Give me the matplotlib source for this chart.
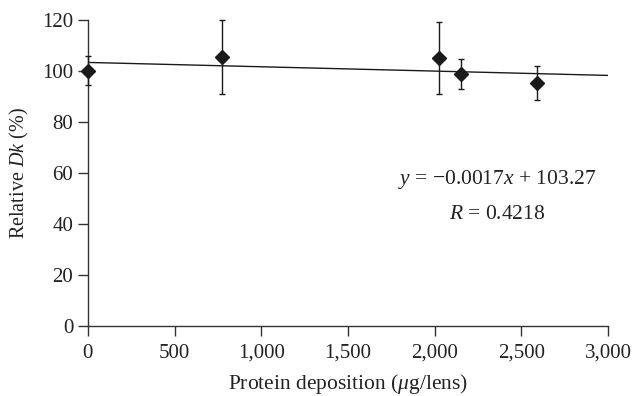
import numpy as np
import matplotlib.pyplot as plt

plt.rcParams["font.family"] = "Liberation Serif"
plt.rcParams["mathtext.fontset"] = "custom"
plt.rcParams["mathtext.rm"] = "Liberation Serif"
plt.rcParams["mathtext.it"] = "Liberation Serif:italic"

# data
protein = [0, 771, 2027, 2152, 2591]
dk = [100.0, 105.4, 105.0, 98.8, 95.2]
dk_err = [5.7, 14.5, 14.3, 5.8, 6.5]

slope = -0.0017
intercept = 103.27
fit_x = [0, 3000]

xticks = [0, 500, 1000, 1500, 2000, 2500, 3000]
yticks = [0, 20, 40, 60, 80, 100, 120]

fig = plt.figure(figsize=(6.32, 3.96), dpi=100)
ax = fig.add_axes([0.139, 0.178, 0.823, 0.772])

fx = np.array(fit_x)
ax.plot(fx, slope * fx + intercept, color="#1a1a1a", lw=1.0, zorder=2)
ax.errorbar(protein, dk, yerr=dk_err, fmt="D", color="#1a1a1a", ms=7.5,
            ecolor="#1a1a1a", elinewidth=1.0, capsize=2.3, capthick=1.0,
            zorder=3, clip_on=False)

ax.set_xlim(0, 3000)
ax.set_ylim(0, 120)
ax.set_xticks(xticks)
ax.set_xticklabels([f"{t:,}" for t in xticks])
ax.set_yticks(yticks)

for s in ["top", "right"]:
    ax.spines[s].set_visible(False)
for s in ["left", "bottom"]:
    ax.spines[s].set_color("#333333")
    ax.spines[s].set_linewidth(1.0)
ax.tick_params(direction="out", length=7, width=1.0, colors="#333333",
               labelsize=15, labelcolor="#222222")
ax.tick_params(axis="x", pad=6)

ax.set_xlabel(r"Protein deposition ($\mathit{\mu}$g/lens)", fontsize=15.5,
              color="#222222", labelpad=7)
ax.set_ylabel(r"Relative $\mathit{Dk}$ (%)", fontsize=14.5, color="#222222",
              labelpad=8)

ax.text(2360, 57.3, r"$y$ = $-$0.0017$x$ + 103.27", ha="center", va="center",
        fontsize=15.5, color="#222222")
ax.text(2360, 43.5, r"$R$ = 0.4218", ha="center", va="center",
        fontsize=15.5, color="#222222")

fig.savefig("out.png", dpi=100)
